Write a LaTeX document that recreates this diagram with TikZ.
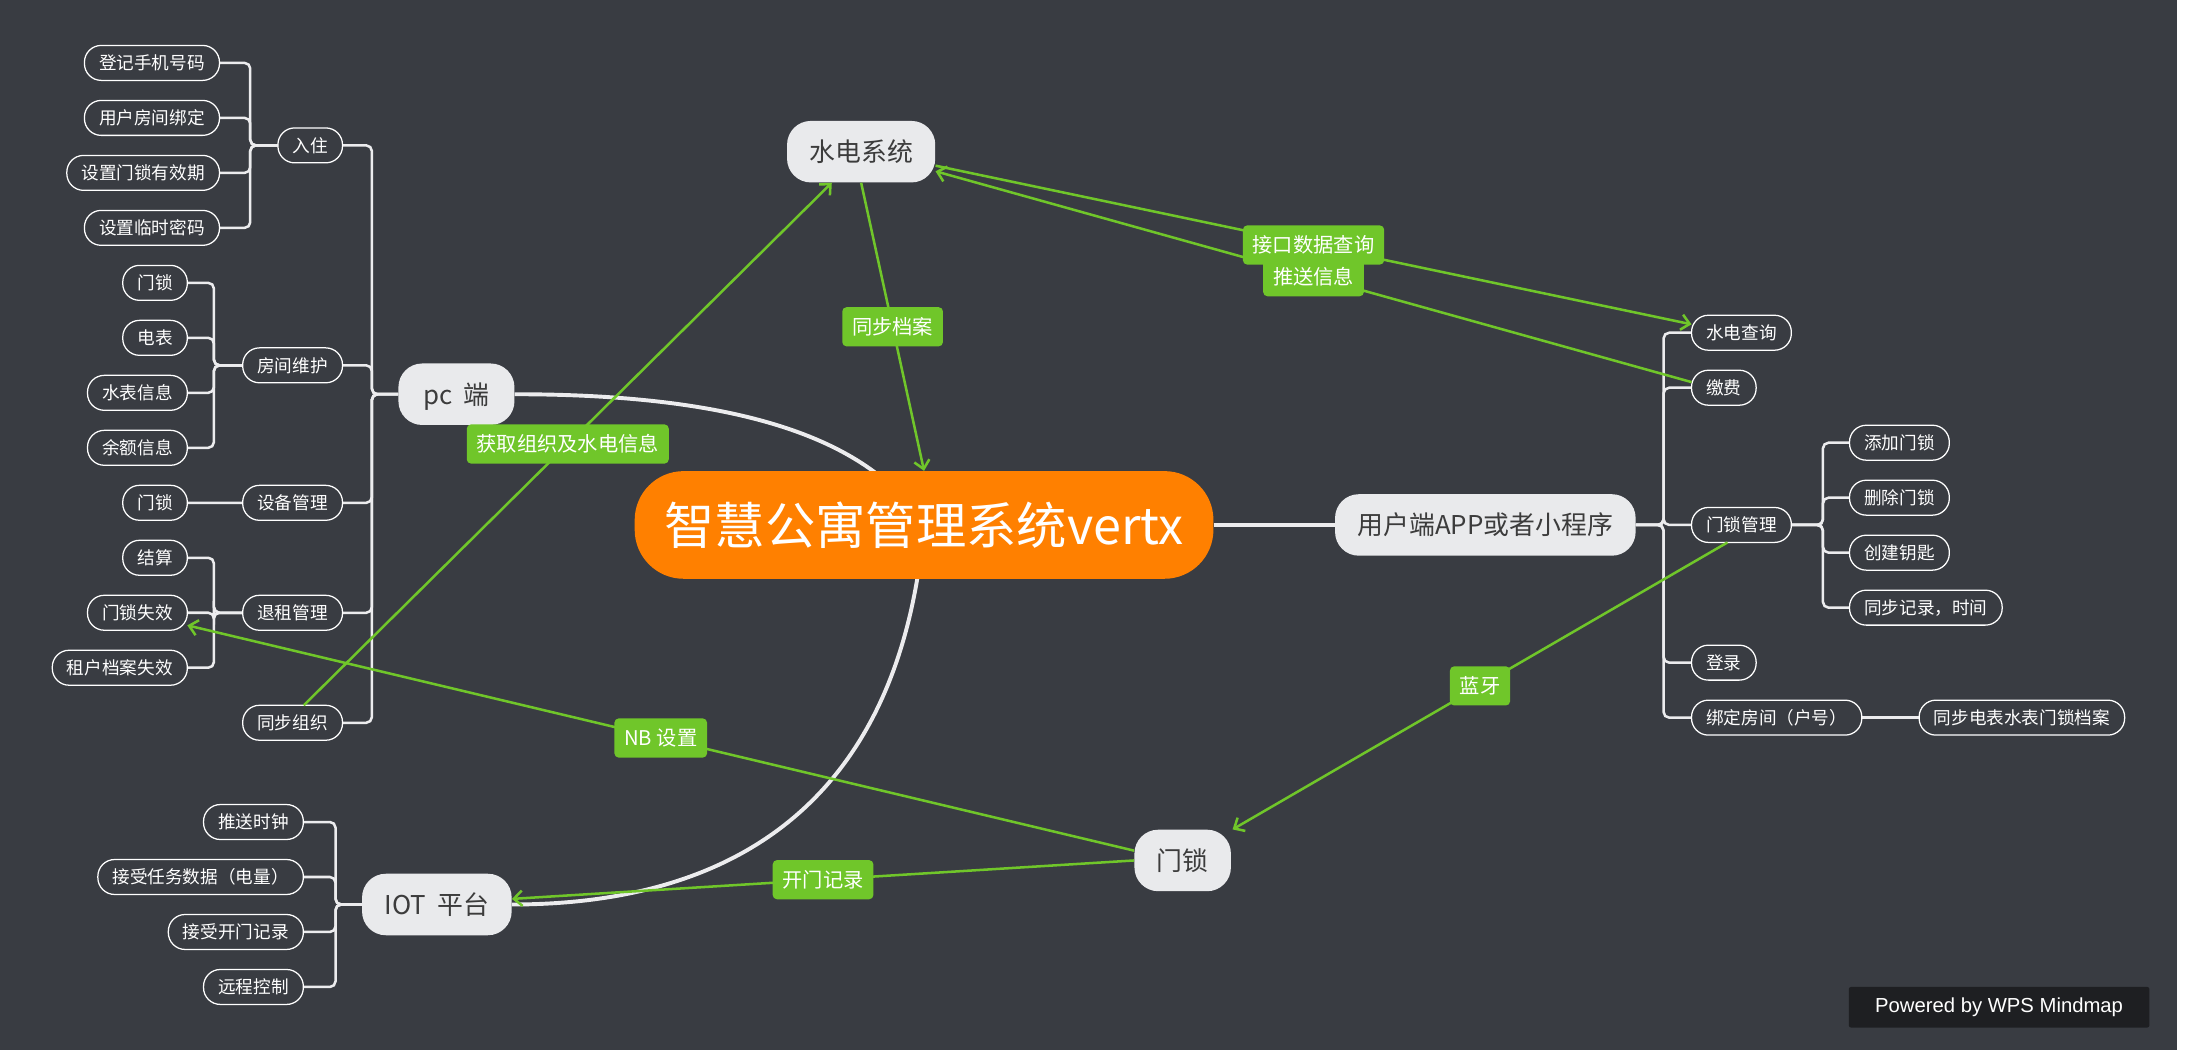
\documentclass[tikz,border=0pt]{standalone}
\usepackage{fontspec}
\setmainfont{Noto Sans CJK SC}
\newfontfamily\wpsfont{Liberation Sans}
\usepackage{tikz}
\usetikzlibrary{positioning, arrows.meta}
\definecolor{bgdark}{RGB}{57,60,66}
\definecolor{huborange}{RGB}{255,128,0}
\definecolor{topicgray}{RGB}{233,234,236}
\definecolor{topictext}{RGB}{60,60,60}
\definecolor{linkgreen}{RGB}{112,198,42}
\definecolor{limbgray}{RGB}{236,236,238}
\definecolor{wpsblack}{RGB}{30,31,34}
\pgfdeclarelayer{canvas}
\pgfdeclarelayer{edges}
\pgfsetlayers{canvas,edges,main}
\tikzstyle{hubbox} = [rectangle, rounded corners=35pt,
minimum width=414pt,
minimum height=77pt,
text height=31.7pt, text depth=4.3pt,
fill=huborange, text=white,
font=\fontsize{36}{40}\selectfont]
\tikzstyle{topicbox} = [rectangle, rounded corners=17pt,
minimum height=44pt,
inner xsep=16pt,
text height=16.3pt, text depth=2.2pt,
fill=topicgray, text=topictext,
font=\fontsize{18.5}{20}\selectfont]
\tikzstyle{leafbox} = [rectangle, rounded corners=12pt,
minimum height=25pt,
inner xsep=10.5pt, inner ysep=0pt, outer sep=0pt,
text height=11.1pt, text depth=1.5pt,
draw=white, line width=0.9pt,
fill=bgdark, text=white,
font=\fontsize{12.6}{14}\selectfont]
\tikzstyle{tagbox} = [rectangle, rounded corners=3pt,
minimum height=28pt,
inner xsep=7pt, inner ysep=0pt,
text height=12.8pt, text depth=1.7pt,
fill=linkgreen, text=white,
font=\fontsize{14.5}{16}\selectfont]
\tikzstyle{linkarrow} = [line width=1.8pt, draw=linkgreen, ->, >={Straight Barb[length=6pt,width=11pt]}]
\tikzstyle{limb} = [line width=1.8pt, draw=limbgray, rounded corners=4pt]
\tikzstyle{trunk} = [line width=2.8pt, draw=limbgray]

\begin{document}
\begin{tikzpicture}[x=1pt, y=-1pt]

\useasboundingbox (0,0) rectangle (1568,756);
\begin{pgfonlayer}{canvas}
\fill [white] (0,0) rectangle (1568,756);
\fill [bgdark] (0,0) rectangle (1557,751);
\end{pgfonlayer}

\node (hub) [hubbox] at (661,375.5) {智慧公寓管理系统vertx};
\node (pc) [topicbox, minimum width=83pt] at (326.5,282) {pc~~端};
\node (sdxt) [topicbox] at (616,108.5) {水电系统};
\node (app) [topicbox, minimum width=215pt] at (1062.5,375.5) {用户端APP或者小程序};
\node (ms) [topicbox] at (846,615.5) {门锁};
\node (iot) [topicbox] at (312.5,647) {IOT~~平台};

\node (ruzhu) [leafbox, anchor=east] at (245,104) {入住};
\node (fjwh) [leafbox, anchor=east] at (245,261.33) {房间维护};
\node (sbgl) [leafbox, anchor=east] at (245,359.67) {设备管理};
\node (tzgl) [leafbox, anchor=east] at (245,438.33) {退租管理};
\node (tbzz) [leafbox, anchor=east] at (245,517) {同步组织};

\node (djsj) [leafbox, anchor=east] at (157,45) {登记手机号码};
\node (yhfj) [leafbox, below=14.33pt of djsj.south east, anchor=north east] {用户房间绑定};
\node (yxq) [leafbox, below=14.33pt of yhfj.south east, anchor=north east] {设置门锁有效期};
\node (lsmm) [leafbox, below=14.33pt of yxq.south east, anchor=north east] {设置临时密码};

\node (fjms) [leafbox, anchor=east] at (134,202.33) {门锁};
\node (dianbiao) [leafbox, below=14.33pt of fjms.south east, anchor=north east] {电表};
\node (shuibiao) [leafbox, below=14.33pt of dianbiao.south east, anchor=north east] {水表信息};
\node (yue) [leafbox, below=14.33pt of shuibiao.south east, anchor=north east] {余额信息};
\node (sbms) [leafbox, below=14.33pt of yue.south east, anchor=north east] {门锁};
\node (jiesuan) [leafbox, below=14.33pt of sbms.south east, anchor=north east] {结算};
\node (mssx) [leafbox, below=14.33pt of jiesuan.south east, anchor=north east] {门锁失效};
\node (dasx) [leafbox, below=14.33pt of mssx.south east, anchor=north east] {租户档案失效};

\node (sdcx) [leafbox, anchor=west] at (1210,238) {水电查询};
\node (jf) [leafbox, below=14.33pt of sdcx.south west, anchor=north west] {缴费};
\node (mgl) [leafbox, anchor=west] at (1210,375.5) {门锁管理};
\node (dl) [leafbox, anchor=west] at (1210,474) {登录};
\node (bdfj) [leafbox, below=14.33pt of dl.south west, anchor=north west] {绑定房间（户号）};
\node (tbda) [leafbox, right=41pt of bdfj] {同步电表水表门锁档案};

\node (tjms) [leafbox, anchor=west] at (1323,316.67) {添加门锁};
\node (scms) [leafbox, below=14.33pt of tjms.south west, anchor=north west] {删除门锁};
\node (cjys) [leafbox, below=14.33pt of scms.south west, anchor=north west] {创建钥匙};
\node (tbjl) [leafbox, below=14.33pt of cjys.south west, anchor=north west] {同步记录，时间};

\node (tssz) [leafbox, anchor=east] at (217,588) {推送时钟};
\node (rwsj) [leafbox, below=14.33pt of tssz.south east, anchor=north east] {接受任务数据（电量）};
\node (kmjl) [leafbox, below=14.33pt of rwsj.south east, anchor=north east] {接受开门记录};
\node (yckz) [leafbox, below=14.33pt of kmjl.south east, anchor=north east] {远程控制};

\node (wps) [rectangle, rounded corners=1.5pt, minimum width=215pt, minimum height=29pt, fill=wpsblack, text=white, font=\wpsfont\fontsize{14.5}{16}\selectfont] at (1430,720.5) {Powered by WPS Mindmap};

\coordinate (rzbar) at (179,0);
\coordinate (whbar) at (153,0);
\coordinate (pcbar) at (266,0);
\coordinate (appbar) at (1190,0);
\coordinate (mgbar) at (1304,0);
\coordinate (iotbar) at (240,0);

\begin{pgfonlayer}{edges}
\draw [trunk] (hub.center) .. controls (620,310) and (520,282) .. (pc.east);
\draw [trunk] (hub.center) .. controls (645,560) and (540,647) .. (iot.east);
\draw [trunk] (hub.east) -- (app.west);
\foreach \c in {ruzhu,fjwh,sbgl,tzgl,tbzz}
  \draw [limb] (pc.west) -- (pc.west -| pcbar) |- (\c.east);
\foreach \c in {djsj,yhfj,yxq,lsmm}
  \draw [limb] (ruzhu.west) -- (ruzhu.west -| rzbar) |- (\c.east);
\foreach \c in {fjms,dianbiao,shuibiao,yue}
  \draw [limb] (fjwh.west) -- (fjwh.west -| whbar) |- (\c.east);
\draw [limb] (sbgl.west) -- (sbms.east);
\foreach \c in {jiesuan,mssx,dasx}
  \draw [limb] (tzgl.west) -- (tzgl.west -| whbar) |- (\c.east);
\foreach \c in {sdcx,jf,mgl,dl,bdfj}
  \draw [limb] (app.east) -- (app.east -| appbar) |- (\c.west);
\foreach \c in {tjms,scms,cjys,tbjl}
  \draw [limb] (mgl.east) -- (mgl.east -| mgbar) |- (\c.west);
\draw [limb] (bdfj.east) -- (tbda.west);
\foreach \c in {tssz,rwsj,kmjl,yckz}
  \draw [limb] (iot.west) -- (iot.west -| iotbar) |- (\c.east);
\end{pgfonlayer}

\draw [linkarrow] ([xshift=8pt]tbzz.north) -- node[tagbox] {获取组织及水电信息} ([xshift=-21pt]sdxt.south);
\draw [linkarrow] (sdxt.south) -- node[tagbox] {同步档案} (hub.north);
\draw [linkarrow] ([yshift=-10pt]sdxt.east) -- node[tagbox] {接口数据查询} ([yshift=6pt]sdcx.west);
\draw [linkarrow] ([yshift=4pt]jf.west) -- node[tagbox] {推送信息} ([yshift=-14pt]sdxt.east);
\draw [linkarrow] ([xshift=-10pt]mgl.south) -- node[tagbox] {蓝牙} ([xshift=1pt]ms.north east);
\draw [linkarrow] ([yshift=7pt]ms.west) -- node[tagbox] {NB 设置} ([yshift=-9pt]mssx.east);
\draw [linkarrow] (ms.west) -- node[tagbox] {开门记录} ([yshift=4pt]iot.east);

\end{tikzpicture}
\end{document}
